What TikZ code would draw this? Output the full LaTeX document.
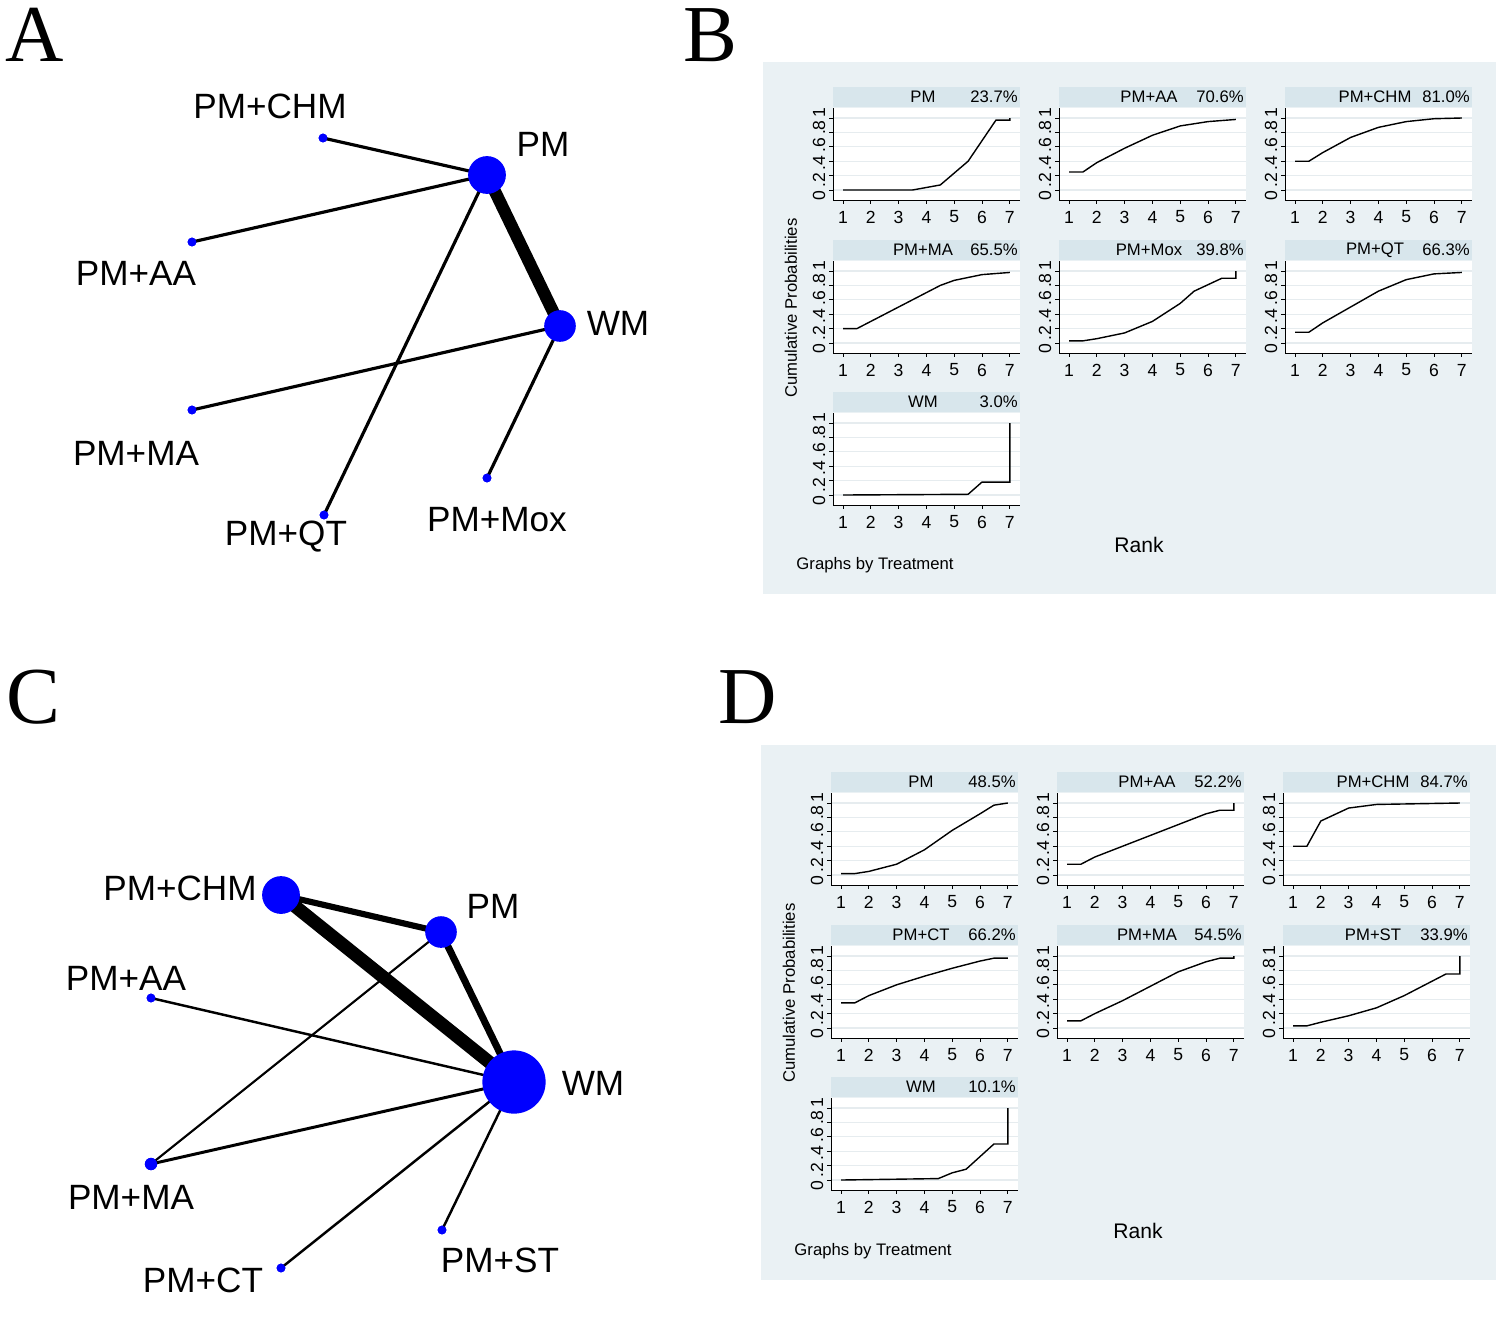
\documentclass[tikz,border=0pt]{standalone}
\usepackage{fontspec}
\setmainfont{Liberation Sans}
\newfontfamily\serifL{Liberation Serif}
\begin{document}
\definecolor{bgc}{HTML}{EAF1F4}
\definecolor{hdc}{HTML}{D8E6EC}
\definecolor{grd}{HTML}{E6ECEF}
\newcommand{\rsub}[5]{%
  \fill[hdc] (#1,#2) rectangle ++(187,20);
  \fill[white] (#1,#2+21) rectangle ++(187,92);
  \node[sub] at (#1+90,#2+10) {#3};
  \node[sub,anchor=east] at (#1+185,#2+10) {#4};
  \foreach \v in {0,0.2,0.4,0.6,0.8,1} {\draw[grd,line width=0.6pt] (#1,#2+103-72*\v) -- (#1+187,#2+103-72*\v);
    \draw[line width=0.5pt] (#1-4,#2+103-72*\v) -- (#1,#2+103-72*\v);}
  \draw[line width=0.5pt] (#1,#2+21) -- (#1,#2+113) -- (#1+187,#2+113);
  \node[tick,rotate=90] at (#1-14,#2+67) {0\,.2\,.4\,.6\,.8\,1};
  \foreach \r in {1,...,7} {\draw[line width=0.5pt] (#1+10+27.8*\r-27.8,#2+113) -- ++(0,4);
    \node[tick] at (#1+10+27.8*\r-27.8,#2+130) {\r};}
  \begin{scope}[shift={(#1-17.8,#2+103)},xscale=27.8,yscale=-72]
    \draw[line width=0.8pt] plot coordinates {#5};
  \end{scope}}
\begin{tikzpicture}[x=0.02cm,y=-0.02cm,
  lab/.style={font=\fontsize{20}{22}\selectfont},
  let/.style={font=\serifL\fontsize{46}{48}\selectfont},
  sub/.style={font=\fontsize{9.5}{11}\selectfont,inner sep=0},
  tick/.style={font=\fontsize{10}{11}\selectfont,inner sep=0},
  small/.style={font=\fontsize{9.5}{11}\selectfont},
  big/.style={circle,fill=blue,inner sep=0},
  dot/.style={circle,fill=blue,inner sep=0,minimum size=5pt},
  ed/.style={draw=black}]
\useasboundingbox (0,0) rectangle (1500,1329);
% panel letters
\node[let] (la) at (35,35) {A};
\node[let] (lb) at (710,35) {B};
\node[let] (lc) at (33,697) {C};
\node[let] (ld) at (748,697) {D};
% Panel A
\coordinate (aPM) at (487,175);
\coordinate (aWM) at (560,326);
\node[dot] (aCHM) at (323,138) {};
\node[dot] (aAA) at (192,242) {};
\node[dot] (aMA) at (192,410) {};
\node[dot] (aQT) at (324,515) {};
\node[dot] (aMox) at (487,478) {};
\draw[line width=1.8pt] (aCHM.center) -- (aPM);
\draw[line width=1.8pt] (aAA.center) -- (aPM);
\draw[line width=1.8pt] (aQT.center) -- (aPM);
\draw[line width=7pt] (aPM) -- (aWM);
\draw[line width=1.8pt] (aMA.center) -- (aWM);
\draw[line width=1.8pt] (aMox.center) -- (aWM);
\node[big,minimum size=21.5pt] (naPM) at (aPM) {};
\node[big,minimum size=18pt] (naWM) at (aWM) {};
\foreach \n in {aCHM,aAA,aMA,aQT,aMox} \node[dot] at (\n) {};
\node[lab] (tACHM) at (270,106) {PM+CHM};
\node[lab] (tAPM) at (543,144) {PM};
\node[lab] (tAAA) at (136,273) {PM+AA};
\node[lab] (tAWM) at (618,323) {WM};
\node[lab] (tAMA) at (136,453) {PM+MA};
\node[lab] (tAQT) at (286,537) {PM+QT};
\node[lab] (tAMox) at (497,520) {PM+Mox};
% Panel C
\node[dot] (cAA) at (151,998) {};
\node[dot,minimum size=7pt] (cMA) at (151,1164) {};
\node[dot] (cCT) at (281,1268) {};
\node[dot] (cST) at (442,1230) {};
\coordinate (cCHM) at (281,895);
\coordinate (cPM) at (441,932);
\coordinate (cWM) at (514,1082);
\draw[line width=3.5pt] (cCHM) -- (cPM);
\draw[line width=7.5pt] (cCHM) -- (cWM);
\draw[line width=4pt] (cPM) -- (cWM);
\draw[line width=1.2pt] (cPM) -- (cMA.center);
\draw[line width=1.4pt] (cAA.center) -- (cWM);
\draw[line width=1.7pt] (cMA.center) -- (cWM);
\draw[line width=1.4pt] (cCT.center) -- (cWM);
\draw[line width=1.4pt] (cST.center) -- (cWM);
\node[big,minimum size=21.5pt] (nCHM) at (cCHM) {};
\node[big,minimum size=18pt] (nPM) at (cPM) {};
\node[big,minimum size=36pt] (nWM) at (cWM) {};
\foreach \n in {cAA,cCT,cST} \node[dot] at (\n) {};
\node[dot,minimum size=7pt] at (cMA) {};
\node[lab] (tCCHM) at (180,888) {PM+CHM};
\node[lab] (tCPM) at (493,906) {PM};
\node[lab] (tCAA) at (126,978) {PM+AA};
\node[lab] (tCWM) at (593,1083) {WM};
\node[lab] (tCMA) at (131,1197) {PM+MA};
\node[lab] (tCCT) at (203,1280) {PM+CT};
\node[lab] (tCST) at (500,1260) {PM+ST};
% Panel B
\fill[bgc] (763,62) rectangle (1496,594);
\rsub{833}{87}{PM}{23.7\%}{(1,0) (3.5,0) (4.5,0.07) (5.5,0.4) (6.5,0.97) (7,0.97) (7,1)}
\rsub{1059}{87}{PM+AA}{70.6\%}{(1,0.25) (1.5,0.25) (2,0.38) (3,0.58) (4,0.76) (5,0.89) (6,0.95) (7,0.98)}
\rsub{1285}{87}{PM+CHM}{81.0\%}{(1,0.4) (1.5,0.4) (2,0.52) (3,0.73) (4,0.87) (5,0.95) (6,0.99) (7,1)}
\rsub{833}{240}{PM+MA}{65.5\%}{(1,0.2) (1.5,0.2) (2,0.3) (3,0.5) (4,0.7) (4.5,0.8) (5,0.87) (6,0.95) (7,0.98)}
\rsub{1059}{240}{PM+Mox}{39.8\%}{(1,0.03) (1.5,0.03) (2,0.06) (3,0.14) (4,0.3) (5,0.55) (5.5,0.72) (6.5,0.9) (7,0.9) (7,1)}
\rsub{1285}{240}{PM+QT}{66.3\%}{(1,0.15) (1.5,0.15) (2,0.28) (3,0.5) (4,0.72) (5,0.88) (6,0.96) (7,0.98)}
\rsub{833}{392}{WM}{3.0\%}{(1,0) (5.5,0.01) (6,0.18) (7,0.18) (7,1)}
\node[small,rotate=90] (bcp) at (791,308) {Cumulative Probabilities};
\node[small,font=\fontsize{12}{14}\selectfont] (brk) at (1139,545) {Rank};
\node[small] (bgt) at (875,565) {Graphs by Treatment};
% Panel D
\fill[bgc] (761,745) rectangle (1496,1280);
\rsub{831}{772}{PM}{48.5\%}{(1,0.02) (1.5,0.02) (2,0.05) (3,0.15) (4,0.35) (5,0.62) (6,0.85) (6.5,0.97) (7,1)}
\rsub{1057}{772}{PM+AA}{52.2\%}{(1,0.15) (1.5,0.15) (2,0.25) (3,0.4) (4,0.55) (5,0.7) (6,0.85) (6.5,0.9) (7,0.9) (7,1)}
\rsub{1283}{772}{PM+CHM}{84.7\%}{(1,0.4) (1.5,0.4) (2,0.75) (3,0.93) (4,0.98) (7,1)}
\rsub{831}{925}{PM+CT}{66.2\%}{(1,0.35) (1.5,0.35) (2,0.45) (3,0.6) (4,0.72) (5,0.83) (6,0.93) (6.5,0.97) (7,0.97)}
\rsub{1057}{925}{PM+MA}{54.5\%}{(1,0.1) (1.5,0.1) (2,0.2) (3,0.38) (4,0.58) (5,0.78) (6,0.92) (6.5,0.97) (7,0.97) (7,1)}
\rsub{1283}{925}{PM+ST}{33.9\%}{(1,0.03) (1.5,0.03) (2,0.08) (3,0.17) (4,0.28) (5,0.45) (6,0.65) (6.5,0.75) (7,0.75) (7,1)}
\rsub{831}{1077}{WM}{10.1\%}{(1,0) (4.5,0.02) (5,0.1) (5.5,0.15) (6.5,0.5) (7,0.5) (7,1)}
\node[small,rotate=90] (dcp) at (789,993) {Cumulative Probabilities};
\node[small,font=\fontsize{12}{14}\selectfont] (drk) at (1138,1231) {Rank};
\node[small] (dgt) at (873,1251) {Graphs by Treatment};
\end{tikzpicture}
\end{document}
